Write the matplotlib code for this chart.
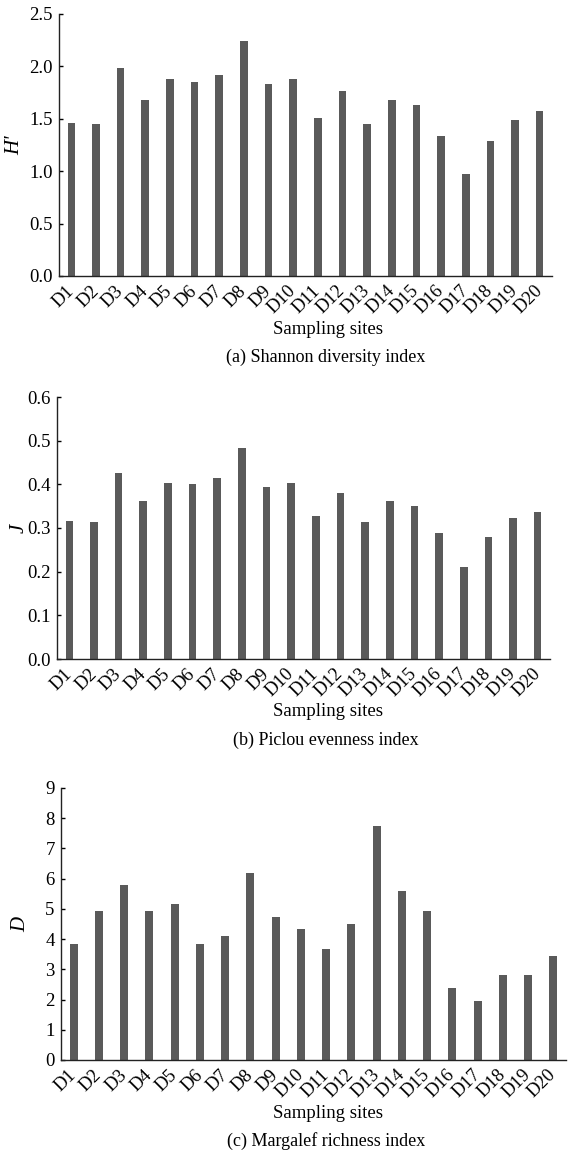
import matplotlib
matplotlib.use("Agg")
import matplotlib.pyplot as plt
from matplotlib.ticker import FormatStrFormatter, MultipleLocator

plt.rcParams["font.family"] = ["Liberation Serif", "DejaVu Serif"]

sites = [f"D{i}" for i in range(1, 21)]

shannon = [1.46, 1.45, 1.98, 1.68, 1.88, 1.85, 1.92, 2.24, 1.83, 1.88,
           1.51, 1.77, 1.45, 1.68, 1.63, 1.34, 0.97, 1.29, 1.49, 1.57]
pielou = [0.317, 0.314, 0.427, 0.361, 0.404, 0.400, 0.414, 0.483, 0.395, 0.404,
          0.327, 0.380, 0.314, 0.361, 0.350, 0.289, 0.210, 0.279, 0.323, 0.337]
margalef = [3.85, 4.93, 5.78, 4.93, 5.17, 3.85, 4.10, 6.20, 4.74, 4.33,
            3.66, 4.50, 7.73, 5.58, 4.93, 2.38, 1.95, 2.80, 2.80, 3.43]

W, H = 573, 1153
BAR_COLOR = "#5a5a5a"


def draw_panel(fig, box, values, ylabel, ymax, ystep, yfmt, caption, label_x):
    left, right, top, bottom = box
    ax = fig.add_axes([left / W, 1 - bottom / H, (right - left) / W, (bottom - top) / H])
    x = list(range(len(sites)))
    ax.bar(x, values, width=0.31, color=BAR_COLOR, edgecolor="none")
    ax.set_xlim(-0.5, len(sites) - 0.5)
    ax.set_ylim(0, ymax)
    ax.yaxis.set_major_locator(MultipleLocator(ystep))
    ax.yaxis.set_major_formatter(FormatStrFormatter(yfmt))
    ax.set_xticks(x)
    ax.set_xticklabels(sites, rotation=45, ha="right", va="center",
                       rotation_mode="anchor", fontsize=13.5)
    ax.tick_params(axis="x", length=0, pad=9)
    ax.tick_params(axis="y", direction="in", length=3, width=1, labelsize=13.5, pad=4.5)
    for side in ("top", "right"):
        ax.spines[side].set_visible(False)
    for side in ("left", "bottom"):
        ax.spines[side].set_linewidth(1.0)
        ax.spines[side].set_color("#222222")
    fig.text(label_x / W, 1 - ((top + bottom) / 2) / H, ylabel, rotation=90,
             ha="center", va="center", fontsize=15, style="italic")
    fig.text(328 / W, 1 - (bottom + 53) / H, "Sampling sites",
             ha="center", va="center", fontsize=13.5)
    fig.text(326 / W, 1 - (bottom + 81) / H, caption,
             ha="center", va="center", fontsize=13)
    return ax


fig = plt.figure(figsize=(W / 100, H / 100), dpi=100)

draw_panel(fig, (59, 552, 14, 276), shannon, "H'", 2.5, 0.5, "%.1f",
           "(a) Shannon diversity index", 15)
draw_panel(fig, (57, 550, 397, 659), pielou, "J", 0.6, 0.1, "%.1f",
           "(b) Piclou evenness index", 19)
draw_panel(fig, (61, 566, 788, 1060), margalef, "D", 9, 1, "%d",
           "(c) Margalef richness index", 21)

fig.savefig("out.png", dpi=100)
plt.close(fig)
